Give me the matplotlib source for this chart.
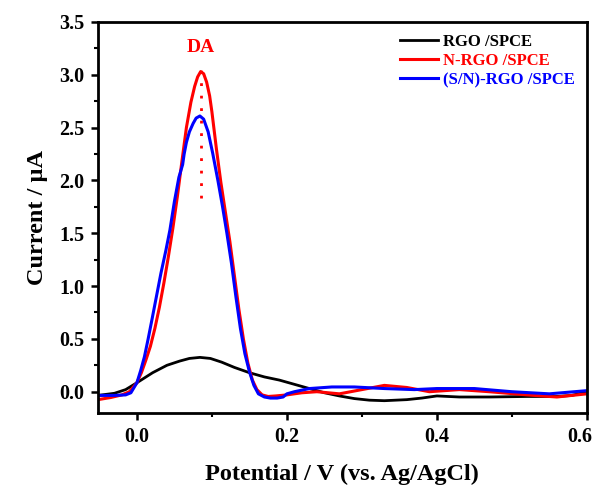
import matplotlib
matplotlib.use("Agg")
from matplotlib import pyplot as plt
from matplotlib.ticker import MultipleLocator
from matplotlib.transforms import ScaledTranslation

plt.rcParams['font.family'] = ['Liberation Serif', 'DejaVu Serif']
plt.rcParams['font.weight'] = 'bold'
plt.rcParams['lines.solid_joinstyle'] = 'round'

# RGO /SPCE
x_rgo = [-0.052, -0.03, -0.015, 0.0, 0.021, 0.04, 0.057, 0.07, 0.084, 0.098, 0.113, 0.13,
         0.15, 0.17, 0.19, 0.21, 0.23, 0.25, 0.27, 0.29, 0.31, 0.33, 0.36, 0.38, 0.4,
         0.43, 0.47, 0.52, 0.56, 0.58, 0.6]
y_rgo = [-0.035, -0.015, 0.02, 0.085, 0.18, 0.25, 0.29, 0.315, 0.325, 0.315, 0.28, 0.23,
         0.18, 0.14, 0.11, 0.07, 0.03, -0.01, -0.04, -0.065, -0.08, -0.085, -0.075, -0.06, -0.04,
         -0.05, -0.05, -0.045, -0.045, -0.035, 0.0]

# N-RGO /SPCE
x_n = [-0.052, -0.035, -0.02, -0.01, 0.0, 0.006, 0.012, 0.018, 0.024, 0.03, 0.036, 0.042,
       0.048, 0.054, 0.06, 0.066, 0.072, 0.077, 0.081, 0.085, 0.089, 0.093, 0.097, 0.1, 0.106,
       0.112, 0.118, 0.124, 0.13, 0.136, 0.142, 0.148, 0.154, 0.16, 0.167, 0.175, 0.185, 0.2,
       0.22, 0.24, 0.27, 0.3, 0.33, 0.36, 0.39, 0.43, 0.47, 0.52, 0.56, 0.6]
y_n = [-0.075, -0.055, -0.03, 0.0, 0.085, 0.18, 0.3, 0.43, 0.6, 0.8, 1.03, 1.28,
       1.55, 1.85, 2.18, 2.5, 2.74, 2.89, 2.98, 3.03, 3.01, 2.93, 2.8, 2.65, 2.3,
       1.98, 1.7, 1.42, 1.1, 0.78, 0.5, 0.27, 0.11, 0.02, -0.03, -0.045, -0.04, -0.03,
       -0.01, 0.0, -0.02, 0.02, 0.06, 0.04, 0.0, 0.02, 0.0, -0.03, -0.05, -0.02]

# (S/N)-RGO /SPCE
x_sn = [-0.052, -0.03, -0.015, -0.008, 0.0, 0.005, 0.01, 0.015, 0.02, 0.026, 0.032, 0.0387,
        0.044, 0.05, 0.056, 0.061, 0.063, 0.066, 0.07, 0.075, 0.079, 0.084, 0.089, 0.095, 0.101,
        0.108, 0.114, 0.12, 0.126, 0.132, 0.138, 0.144, 0.15, 0.156, 0.162, 0.17, 0.178,
        0.187, 0.195, 0.2, 0.21, 0.23, 0.26, 0.29, 0.33, 0.37, 0.4, 0.45, 0.5, 0.55, 0.6]
y_sn = [-0.035, -0.035, -0.03, -0.01, 0.085, 0.2, 0.33, 0.5, 0.68, 0.9, 1.12, 1.34,
        1.53, 1.8, 2.03, 2.15, 2.25, 2.36, 2.46, 2.54, 2.59, 2.61, 2.58, 2.46, 2.26,
        2.0, 1.76, 1.5, 1.22, 0.9, 0.6, 0.36, 0.19, 0.06, -0.02, -0.05, -0.06,
        -0.06, -0.05, -0.02, 0.0, 0.03, 0.045, 0.045, 0.03, 0.02, 0.03, 0.03, 0.0, -0.02, 0.01]

x_ticks = [0.0, 0.2, 0.4, 0.6]
x_ticklabels = ['0.0', '0.2', '0.4', '0.6']

fig = plt.figure(figsize=(5.97, 4.88), dpi=100)
ax = fig.add_axes([0.164, 0.154, 0.819, 0.801])

ax.plot(x_rgo, y_rgo, color='black', lw=2.0, label='RGO /SPCE')
ax.plot(x_n, y_n, color='red', lw=2.2, label='N-RGO /SPCE')
ax.plot(x_sn, y_sn, color='blue', lw=2.2, label='(S/N)-RGO /SPCE')

# DA peak marker
ax.plot([0.085, 0.085], [1.83, 3.12], color='red', ls=(0, (1, 3.5)), lw=2.0)
ax.text(0.085, 3.26, 'DA', color='red', fontsize=14, fontweight='bold',
        ha='center', va='center')

ax.set_xlim(-0.052, 0.6)
ax.set_ylim(-0.2, 3.5)
ax.set_xticks(x_ticks)
ax.set_xticklabels(x_ticklabels)
ax.xaxis.set_minor_locator(MultipleLocator(0.1))
ax.yaxis.set_major_locator(MultipleLocator(0.5))
ax.yaxis.set_minor_locator(MultipleLocator(0.25))
ax.tick_params(which='major', direction='out', length=5, width=1.8, labelsize=14.5, pad=5)
ax.tick_params(which='minor', direction='out', length=3, width=1.5)
for s in ax.spines.values():
    s.set_linewidth(2.0)
for lab in ax.get_xticklabels() + ax.get_yticklabels():
    lab.set_fontweight('bold')

# nudge the last x label so it stays inside the figure
last = ax.get_xticklabels()[-1]
last.set_transform(last.get_transform() + ScaledTranslation(-5 / 72, 0, fig.dpi_scale_trans))

ax.set_xlabel('Potential / V (vs. Ag/AgCl)', fontsize=17.5, fontweight='bold', labelpad=12)
ax.set_ylabel('Current / µA', fontsize=17.5, fontweight='bold', labelpad=8)

leg = ax.legend(loc='upper right', frameon=False, fontsize=12, handlelength=2.3,
                handletextpad=0.3, labelspacing=0.2, borderaxespad=0.3,
                bbox_to_anchor=(1.0, 1.0))
for t, c in zip(leg.get_texts(), ['black', 'red', 'blue']):
    t.set_color(c)
    t.set_fontweight('bold')

fig.savefig('out.png', dpi=100)
